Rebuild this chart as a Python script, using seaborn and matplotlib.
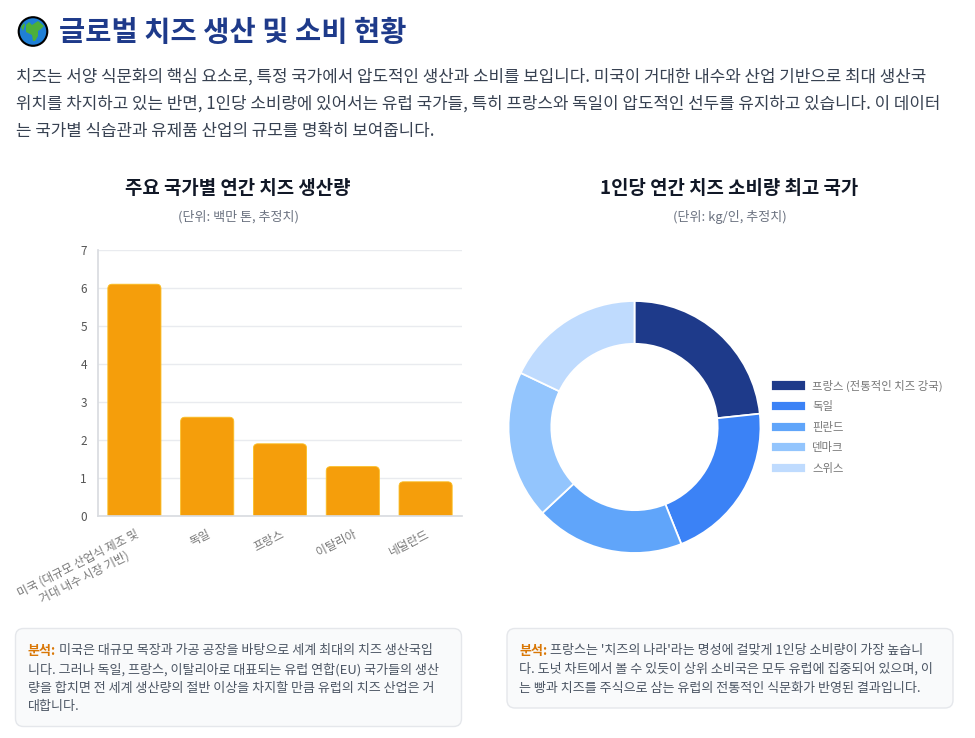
import matplotlib
matplotlib.use("Agg")
import matplotlib.pyplot as plt
import pandas as pd
import seaborn as sns
from matplotlib.patches import Circle, FancyBboxPatch, Polygon

producers = ["미국 (대규모 산업식 제조 및\n거대 내수 시장 기반)", "독일", "프랑스", "이탈리아", "네덜란드"]
production = [6.1, 2.6, 1.9, 1.3, 0.9]

consumers = ["프랑스 (전통적인 치즈 강국)", "독일", "핀란드", "덴마크", "스위스"]
consumption = [26, 23, 21.3, 21.2, 20]
donut_colors = ["#1e3a8a", "#3b82f6", "#60a5fa", "#93c5fd", "#bfdbfe"]

title = "글로벌 치즈 생산 및 소비 현황"
intro = [
    "치즈는 서양 식문화의 핵심 요소로, 특정 국가에서 압도적인 생산과 소비를 보입니다. 미국이 거대한 내수와 산업 기반으로 최대 생산국",
    "위치를 차지하고 있는 반면, 1인당 소비량에 있어서는 유럽 국가들, 특히 프랑스와 독일이 압도적인 선두를 유지하고 있습니다. 이 데이터",
    "는 국가별 식습관과 유제품 산업의 규모를 명확히 보여줍니다.",
]
note_left = [
    "미국은 대규모 목장과 가공 공장을 바탕으로 세계 최대의 치즈 생산국입",
    "니다. 그러나 독일, 프랑스, 이탈리아로 대표되는 유럽 연합(EU) 국가들의 생산",
    "량을 합치면 전 세계 생산량의 절반 이상을 차지할 만큼 유럽의 치즈 산업은 거",
    "대합니다.",
]
note_right = [
    "프랑스는 '치즈의 나라'라는 명성에 걸맞게 1인당 소비량이 가장 높습니",
    "다. 도넛 차트에서 볼 수 있듯이 상위 소비국은 모두 유럽에 집중되어 있으며, 이",
    "는 빵과 치즈를 주식으로 삼는 유럽의 전통적인 식문화가 반영된 결과입니다.",
]

sns.set_theme(style="white")
plt.rcParams["font.family"] = ["Noto Sans CJK KR", "DejaVu Sans"]

W, H = 975, 738
fig = plt.figure(figsize=(W / 100, H / 100), dpi=100, facecolor="white")


def axes_px(x0, y0, x1, y1):
    return fig.add_axes([x0 / W, 1 - y1 / H, (x1 - x0) / W, (y1 - y0) / H])


# page layer in pixel coordinates for the html-like text and cards
page = fig.add_axes([0, 0, 1, 1], zorder=0)
page.set_xlim(0, W)
page.set_ylim(H, 0)
page.axis("off")

page.text(59, 32.5, title, fontsize=20.5, fontweight="bold", color="#1e3a8a", va="center")
for i, line in enumerate(intro):
    page.text(16, 77 + i * 27, line, fontsize=12.15, color="#374151", va="center")

page.text(238, 189, "주요 국가별 연간 치즈 생산량", fontsize=13.6, fontweight="bold", color="#111827", ha="center", va="center")
page.text(238, 217, "(단위: 백만 톤, 추정치)", fontsize=9.4, color="#6b7280", ha="center", va="center")
page.text(729.5, 189, "1인당 연간 치즈 소비량 최고 국가", fontsize=13.6, fontweight="bold", color="#111827", ha="center", va="center")
page.text(729.5, 217, "(단위: kg/인, 추정치)", fontsize=9.4, color="#6b7280", ha="center", va="center")

# globe emoji
page.add_patch(Circle((33, 31.5), 14.3, fc="#1f7fd6", ec="black", lw=1.5))
page.add_patch(Polygon([(26, 25), (29, 22), (32, 25), (38, 21), (44, 26), (41, 29), (38, 31), (38, 36), (35, 41), (33, 41), (32, 35), (26, 32)], fc="#4caf3a", ec="none"))
page.add_patch(Polygon([(21, 27), (24, 23), (25, 25), (23, 31)], fc="#4caf3a", ec="none"))


def note_card(x0, y0, x1, y1, lines):
    page.add_patch(FancyBboxPatch((x0, y0), x1 - x0, y1 - y0, boxstyle="round,pad=0,rounding_size=8",
                                  fc="#f9fafb", ec="#e5e7eb", lw=1))
    top = y0 + 22
    page.text(x0 + 12, top, "분석:", fontsize=9.4, fontweight="bold", color="#d97706", va="center")
    for i, line in enumerate(lines):
        page.text(x0 + 43.5 if i == 0 else x0 + 12, top + i * 18.8, line, fontsize=9.4, color="#4b5563", va="center")


note_card(15.5, 628.5, 461.5, 726.5, note_left)
note_card(507, 628.5, 953, 708, note_right)

# bar chart
ax = axes_px(98, 250, 462, 516)
ax.patch.set_alpha(0)
df = pd.DataFrame({"country": producers, "production": production})
sns.barplot(data=df, x="country", y="production", color="#f59e0b", saturation=1, width=0.73, ax=ax)
ax.set_ylim(0, 7)
ax.set_xlabel("")
ax.set_ylabel("")
ax.yaxis.grid(True, color="#e9ebef", lw=1)
ax.set_axisbelow(True)
sns.despine(ax=ax, top=True, right=True)
for side in ["left", "bottom"]:
    ax.spines[side].set_color("#d9dce1")
ax.tick_params(axis="y", length=5, color="#e5e7eb", labelsize=8.5, labelcolor="#555555", pad=3)
ax.tick_params(axis="x", length=0, pad=8)
plt.setp(ax.get_xticklabels(), rotation=27, ha="right", rotation_mode="anchor", fontsize=8.5, color="#777777",
         multialignment="center", linespacing=1.25)

# rounded tops, keeps the geometry seaborn computed
per_px = 7 / 266
for bar in list(ax.patches):
    x, w, h = bar.get_x(), bar.get_width(), bar.get_height()
    bar.set_visible(False)
    ax.add_patch(FancyBboxPatch((x, -0.3), w, h + 0.3, boxstyle="round,pad=0,rounding_size=0.06",
                                mutation_aspect=per_px * 72.8, fc="#f59e0b", ec="#fbbf24", lw=0.6, zorder=2))

# donut
ax2 = axes_px(634.5 - 127, 427 - 127, 634.5 + 127, 427 + 127)
wedges, _ = ax2.pie(consumption, colors=donut_colors, startangle=90, counterclock=False, radius=1,
                    wedgeprops={"width": 0.34, "edgecolor": "white", "linewidth": 1.3})
ax2.set_xlim(-127 / 126, 127 / 126)
ax2.set_ylim(-127 / 126, 127 / 126)
fig.legend(wedges, consumers, loc="upper left", bbox_to_anchor=(768 / W, 1 - 376 / H), frameon=False,
           fontsize=8.2, labelcolor="#777777", handlelength=3.05, handleheight=1.0, handletextpad=0.55,
           labelspacing=0.835, borderaxespad=0, borderpad=0.3)

fig.savefig("out.png", dpi=100, facecolor="white")
